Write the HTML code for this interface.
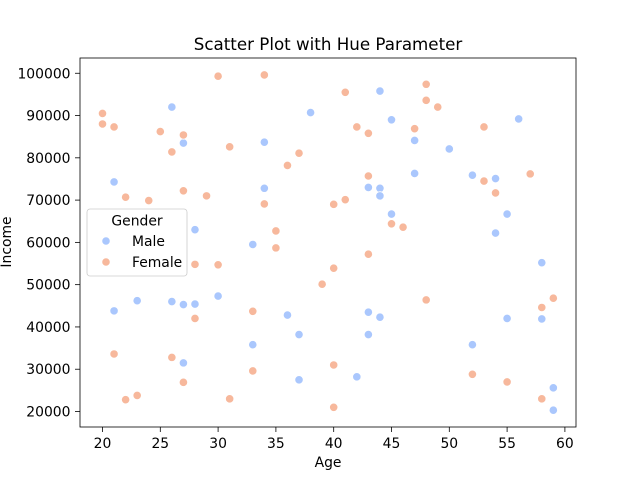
<!DOCTYPE html>
<html><head><meta charset="utf-8"><style>
body{margin:0;background:#fff;font-family:"Liberation Sans","DejaVu Sans",sans-serif}
svg text{font-family:"DejaVu Sans","Liberation Sans",sans-serif;fill:#000}
</style></head><body>
<svg id="chart" width="640" height="480" xmlns="http://www.w3.org/2000/svg">
<rect width="640" height="480" fill="#fff"/>
<text x="328" y="50" font-size="16.7" text-anchor="middle">Scatter Plot with Hue Parameter</text>
<g id="marks"></g>
<rect x="80" y="58" width="496" height="369" fill="none" stroke="#000" stroke-width="0.8"/>
<g id="axes"></g>
<text x="328" y="467" font-size="13.9" text-anchor="middle">Age</text>
<text transform="translate(11,242) rotate(-90)" font-size="13.9" text-anchor="middle">Income</text>
<g>
<rect x="87" y="209" width="100" height="67" rx="3" fill="#fff" fill-opacity="0.8" stroke="#ccc" stroke-width="0.8"/>
<text x="137" y="225.5" font-size="13.9" text-anchor="middle">Gender</text>
<circle cx="106" cy="241" r="4.2" fill="#aac7fd" stroke="#fff" stroke-width="0.8"/>
<text x="132" y="246" font-size="13.9">Male</text>
<circle cx="106" cy="262" r="4.2" fill="#f7b89c" stroke="#fff" stroke-width="0.8"/>
<text x="132" y="267" font-size="13.9">Female</text>
</g>
</svg>
<script>
const xTicks=[20,25,30,35,40,45,50,55,60];
const yTicks=[20000,30000,40000,50000,60000,70000,80000,90000,100000];
const maleAge=[26,27,21,28,21,23,26,27,28,30,27,33,33,34,34,36,37,37,38,42,43,43,43,44,44,44,44,45,45,47,47,50,52,52,54,54,55,55,56,58,58,59,59];
const maleIncome=[92000,83500,74300,63000,43800,46200,46000,45300,45400,47300,31500,59500,35800,83700,72800,42800,38200,27500,90700,28200,73000,43500,38200,95800,72800,71000,42300,89000,66700,84100,76300,82100,75900,35800,75100,62200,66700,42000,89200,55200,41900,25600,20300];
const femaleAge=[20,20,21,21,22,22,23,24,25,26,26,27,27,27,28,28,29,30,30,31,31,33,33,34,34,35,35,36,37,39,40,40,40,40,41,41,42,43,43,43,45,46,47,48,48,48,49,52,53,53,54,55,57,58,58,59];
const femaleIncome=[90500,88000,87300,33600,70700,22800,23800,69900,86200,81400,32800,85400,72200,26900,54800,42000,71000,99300,54700,82600,23000,43700,29600,99600,69100,62700,58700,78200,81100,50100,69000,53900,31000,21000,95500,70100,87300,85800,75700,57200,64400,63600,86900,97400,93600,46400,92000,28800,87300,74500,71700,27000,76200,44600,23000,46800];
const NS="http://www.w3.org/2000/svg";
const xS=v=>102.5+(v-20)*11.56;
const yS=v=>411.5-(v-20000)*0.004228;
const marks=document.getElementById('marks'),axes=document.getElementById('axes');
function mk(t,a){const e=document.createElementNS(NS,t);for(const k in a)e.setAttribute(k,a[k]);return e;}
xTicks.forEach(t=>{const x=xS(t);
 const l=mk('line',{x1:x,x2:x,y1:427,y2:432,stroke:'#000','stroke-width':0.8});
 
 
 axes.appendChild(l);
 const tx=mk('text',{x:x,y:448,'font-size':13.9,'text-anchor':'middle'});tx.textContent=t;
 
 
 axes.appendChild(tx);});
yTicks.forEach(t=>{const y=yS(t);
 const l=mk('line',{x1:75,x2:80,y1:y,y2:y,stroke:'#000','stroke-width':0.8});
 
 
 axes.appendChild(l);
 const tx=mk('text',{x:70.5,y:y+5,'font-size':13.9,'text-anchor':'end'});tx.textContent=t;
 
 
 axes.appendChild(tx);});
function pts(ax,inc,col,name){ax.forEach((a,i)=>{
 const c=mk('circle',{cx:xS(a),cy:yS(inc[i]),r:4.2,fill:col,stroke:'#fff','stroke-width':0.8});
 
 
 marks.appendChild(c);});}
pts(maleAge,maleIncome,'#aac7fd','point-male');
pts(femaleAge,femaleIncome,'#f7b89c','point-female');
</script>
</body></html>
